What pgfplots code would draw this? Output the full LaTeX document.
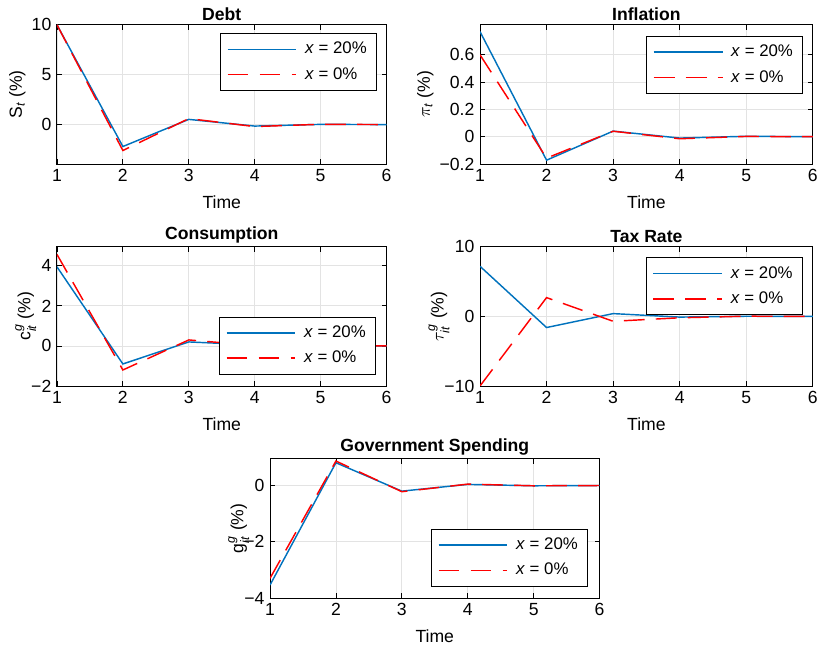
\documentclass[border=0pt]{standalone}
\usepackage{pgfplots}
\pgfplotsset{compat=1.18}
\usepackage{amsmath}
\usepackage{fontspec}
\setmainfont{Liberation Sans}

\definecolor{mblue}{rgb}{0,0.447,0.741}

\pgfplotsset{
  irf/.style={
    scale only axis, width=206pt, height=87pt,
    anchor=south west,
    xmin=1, xmax=6, xtick={1,2,3,4,5,6},
    tick align=inside, tick pos=both,
    major tick length=3pt,
    grid=major, grid style={gray!22, line width=0.5pt},
    axis line style={line width=0.6pt},
    every tick/.style={black, line width=0.5pt},
    /pgf/number format/assume math mode=true,
    tick label style={font=\fontsize{11}{13}\selectfont},
    label style={font=\fontsize{11}{13}\selectfont},
    ylabel style={yshift=-3pt},
    xlabel style={yshift=-1.5pt},
    title style={font=\bfseries\fontsize{11}{13}\selectfont, yshift=-7pt},
    xlabel={Time},
    legend cell align=left,
    legend style={draw=black, font=\fontsize{10.5}{12}\selectfont,
      inner xsep=4pt, inner ysep=3.5pt, row sep=3pt,
      /tikz/every odd column/.append style={column sep=3pt}},
    legend image code/.code={%
      \draw[mark repeat=2,mark phase=2] plot coordinates {(0pt,0pt) (43pt,0pt)};},
  },
  stacklabel/.style={ylabel style={yshift=-7pt}},
  s20/.style={mblue, line width=0.9pt},
  s0/.style={red, line width=0.9pt, dash pattern=on 13pt off 7pt},
}

\begin{document}
\begin{tikzpicture}
\useasboundingbox (0,0) rectangle (511.25pt,-405.6pt);

% Debt
\begin{axis}[irf, at={(35.6pt,-102.5pt)},
  title={Debt}, ymin=-3.95, ymax=10, ytick={0,5,10},
  ylabel={S\textsubscript{\itshape t} (\%)},
  legend style={at={(0.97,0.94)}, anchor=north east}]
\addplot[s20] coordinates {(1,10)(2,-2.2)(3,0.52)(4,-0.15)(5,0.02)(6,0)};
\addplot[s0] coordinates {(1,10)(2,-2.6)(3,0.6)(4,-0.2)(5,0.03)(6,0)};
\legend{\textit{x} = 20\%, \textit{x} = 0\%}
\end{axis}

% Inflation
\begin{axis}[irf, at={(300pt,-102.5pt)}, width=208pt,
  title={Inflation}, ymin=-0.2, ymax=0.82, ytick={-0.2,0,0.2,0.4,0.6},
  yticklabels={−0.2,0,0.2,0.4,0.6},
  ylabel={$\pi$\textsubscript{\itshape t} (\%)},
  legend style={at={(0.97,0.92)}, anchor=north east}]
\addplot[s20] coordinates {(1,0.77)(2,-0.172)(3,0.041)(4,-0.01)(5,0.003)(6,0)};
\addplot[s0] coordinates {(1,0.6)(2,-0.157)(3,0.04)(4,-0.015)(5,0.002)(6,0)};
\legend{\textit{x} = 20\%, \textit{x} = 0\%}
\end{axis}

% Consumption
\begin{axis}[irf, stacklabel, at={(35.6pt,-241.25pt)},
  title={Consumption}, ymin=-2, ymax=4.95, ytick={-2,0,2,4},
  yticklabels={−2,0,2,4},
  ylabel={$\text{c}^{\text{\itshape g}}_{\text{\itshape it}}$ (\%)},
  legend style={at={(0.967,0.084)}, anchor=south east}]
\addplot[s20] coordinates {(1,3.95)(2,-0.9)(3,0.2)(4,0.05)(5,0.01)(6,0)};
\addplot[s0] coordinates {(1,4.57)(2,-1.2)(3,0.3)(4,0.02)(5,0)(6,0)};
\legend{\textit{x} = 20\%, \textit{x} = 0\%}
\end{axis}

% Tax rate
\begin{axis}[irf, stacklabel, at={(300pt,-241.25pt)}, width=208pt,
  title={Tax Rate}, ymin=-10, ymax=10, ytick={-10,0,10},
  yticklabels={−10,0,10},
  ylabel={$\tau^{\text{\itshape g}}_{\text{\itshape it}}$ (\%)},
  legend style={at={(0.969,0.924)}, anchor=north east}]
\addplot[s20] coordinates {(1,7.2)(2,-1.6)(3,0.4)(4,-0.1)(5,0.02)(6,0)};
\addplot[s0] coordinates {(1,-10)(2,2.7)(3,-0.7)(4,-0.2)(5,0.03)(6,0)};
\legend{\textit{x} = 20\%, \textit{x} = 0\%}
\end{axis}

% Government spending
\begin{axis}[irf, stacklabel, at={(168.75pt,-373.75pt)},
  title={Government Spending}, ymin=-4, ymax=0.95, ytick={-4,-2,0},
  yticklabels={−4,−2,0},
  ylabel={$\text{g}^{\text{\itshape g}}_{\text{\itshape it}}$ (\%)},
  legend style={at={(0.964,0.083)}, anchor=south east}]
\addplot[s20] coordinates {(1,-3.54)(2,0.81)(3,-0.2)(4,0.04)(5,-0.01)(6,0)};
\addplot[s0] coordinates {(1,-3.3)(2,0.87)(3,-0.22)(4,0.05)(5,-0.01)(6,0)};
\legend{\textit{x} = 20\%, \textit{x} = 0\%}
\end{axis}
\end{tikzpicture}
\end{document}
